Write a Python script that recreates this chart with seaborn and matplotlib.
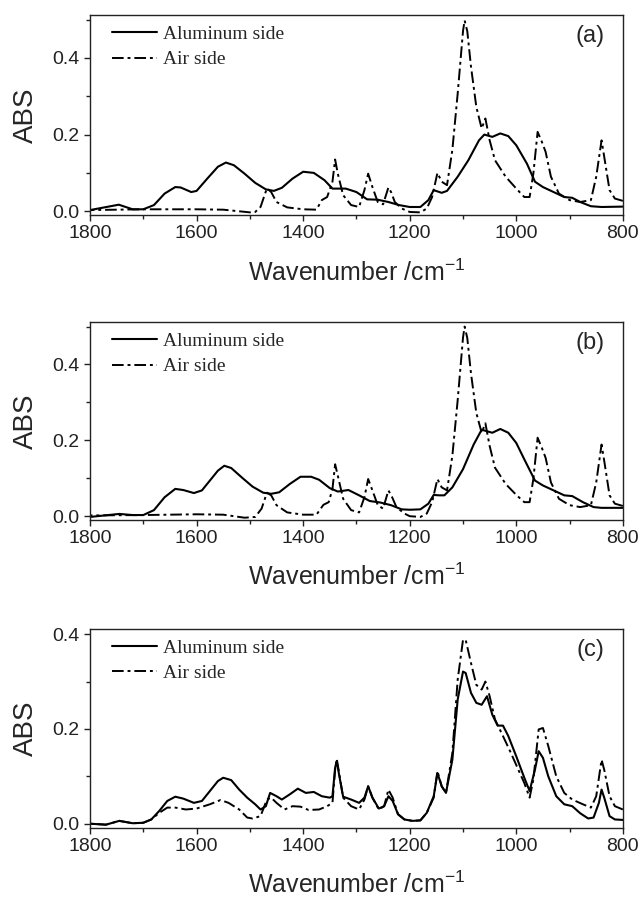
import numpy as np
import pandas as pd
import seaborn as sns
import matplotlib.pyplot as plt
from matplotlib.ticker import MultipleLocator

# ---- panel (a) ----
wn_al_a = [1800, 1746, 1720, 1700, 1680, 1660, 1640, 1630, 1610, 1600, 1580, 1560, 1545, 1530,
           1510, 1490, 1470, 1455, 1440, 1420, 1400, 1380, 1360, 1345, 1320, 1300, 1280, 1260,
           1240, 1220, 1200, 1180, 1165, 1155, 1140, 1130, 1110, 1090, 1070, 1060, 1045, 1030,
           1015, 1000, 980, 965, 950, 930, 910, 895, 880, 860, 840, 800]
abs_al_a = [0.003, 0.017, 0.005, 0.005, 0.016, 0.046, 0.063, 0.062, 0.050, 0.053, 0.085, 0.116,
            0.127, 0.120, 0.098, 0.074, 0.057, 0.053, 0.061, 0.085, 0.103, 0.100, 0.081, 0.059,
            0.059, 0.050, 0.031, 0.030, 0.024, 0.016, 0.011, 0.011, 0.029, 0.055, 0.048, 0.053,
            0.090, 0.133, 0.185, 0.200, 0.194, 0.203, 0.196, 0.172, 0.124, 0.077, 0.063, 0.050,
            0.037, 0.035, 0.024, 0.013, 0.011, 0.012]
wn_air_a = [1800, 1700, 1600, 1550, 1500, 1490, 1480, 1468, 1460, 1450, 1430, 1400, 1375, 1365,
            1355, 1345, 1340, 1335, 1325, 1310, 1295, 1285, 1278, 1270, 1260, 1250, 1240, 1235,
            1228, 1215, 1200, 1180, 1168, 1158, 1148, 1140, 1130, 1120, 1110, 1100, 1097, 1092,
            1085, 1075, 1065, 1058, 1050, 1040, 1020, 1000, 985, 975, 968, 960, 952, 945, 935,
            920, 900, 880, 860, 850, 840, 835, 825, 815, 800]
abs_air_a = [0.003, 0.005, 0.005, 0.004, -0.003, -0.002, 0.011, 0.060, 0.050, 0.024, 0.010,
             0.005, 0.004, 0.029, 0.037, 0.077, 0.135, 0.098, 0.042, 0.016, 0.011, 0.055, 0.098,
             0.063, 0.024, 0.018, 0.062, 0.050, 0.024, 0.007, -0.002, -0.003, 0.007, 0.037, 0.100,
             0.077, 0.068, 0.160, 0.307, 0.470, 0.498, 0.470, 0.377, 0.272, 0.216, 0.242, 0.185,
             0.133, 0.090, 0.059, 0.037, 0.037, 0.098, 0.207, 0.181, 0.155, 0.090, 0.046, 0.029,
             0.024, 0.029, 0.090, 0.185, 0.142, 0.055, 0.033, 0.027]

# ---- panel (b) ----
wn_al_b = [1800, 1745, 1720, 1700, 1680, 1660, 1640, 1625, 1605, 1590, 1575, 1560, 1548, 1535,
           1515, 1495, 1475, 1460, 1445, 1425, 1405, 1385, 1370, 1350, 1335, 1315, 1295, 1275,
           1255, 1235, 1215, 1200, 1180, 1165, 1155, 1145, 1135, 1120, 1100, 1080, 1065, 1055,
           1045, 1030, 1015, 1000, 985, 965, 950, 930, 910, 895, 875, 855, 840, 800]
abs_al_b = [-0.002, 0.006, 0.003, 0.003, 0.016, 0.050, 0.072, 0.069, 0.061, 0.068, 0.094, 0.120,
            0.133, 0.127, 0.102, 0.078, 0.062, 0.059, 0.063, 0.085, 0.104, 0.104, 0.096, 0.074,
            0.065, 0.069, 0.055, 0.040, 0.036, 0.029, 0.018, 0.017, 0.018, 0.033, 0.056, 0.055,
            0.055, 0.076, 0.124, 0.189, 0.228, 0.224, 0.220, 0.230, 0.220, 0.193, 0.150, 0.094,
            0.081, 0.068, 0.055, 0.053, 0.037, 0.024, 0.022, 0.022]
wn_air_b = [1800, 1700, 1600, 1550, 1510, 1490, 1478, 1468, 1460, 1450, 1430, 1400, 1375, 1362,
            1352, 1345, 1340, 1335, 1325, 1310, 1295, 1285, 1278, 1270, 1260, 1250, 1240, 1233,
            1225, 1210, 1200, 1180, 1168, 1158, 1148, 1140, 1130, 1120, 1110, 1100, 1097, 1092,
            1085, 1075, 1065, 1058, 1050, 1040, 1020, 1000, 985, 975, 968, 960, 952, 945, 935,
            920, 900, 880, 860, 850, 840, 835, 825, 815, 800]
abs_air_b = [0.002, 0.003, 0.005, 0.004, -0.004, -0.002, 0.020, 0.062, 0.055, 0.029, 0.010,
             0.004, 0.004, 0.030, 0.037, 0.072, 0.137, 0.107, 0.046, 0.016, 0.010, 0.050, 0.098,
             0.068, 0.029, 0.020, 0.068, 0.050, 0.024, 0.007, 0.000, -0.002, 0.007, 0.037, 0.098,
             0.076, 0.068, 0.159, 0.306, 0.471, 0.500, 0.470, 0.376, 0.272, 0.220, 0.245, 0.185,
             0.128, 0.085, 0.056, 0.037, 0.037, 0.098, 0.207, 0.180, 0.154, 0.089, 0.046, 0.029,
             0.024, 0.029, 0.089, 0.189, 0.146, 0.055, 0.033, 0.027]

# ---- panel (c) ----
wn_al_c = [1800, 1770, 1745, 1720, 1700, 1685, 1670, 1655, 1640, 1625, 1605, 1590, 1575, 1560,
           1550, 1535, 1520, 1505, 1490, 1480, 1470, 1462, 1450, 1440, 1425, 1410, 1395, 1380,
           1365, 1350, 1345, 1340, 1337, 1332, 1325, 1310, 1295, 1285, 1278, 1270, 1258, 1248,
           1240, 1232, 1222, 1210, 1195, 1180, 1168, 1155, 1148, 1140, 1132, 1120, 1110, 1100,
           1095, 1085, 1075, 1065, 1055, 1045, 1035, 1025, 1015, 1000, 985, 975, 965, 958, 950,
           940, 925, 910, 895, 880, 865, 855, 845, 840, 835, 825, 815, 800]
abs_al_c = [0.000, -0.002, 0.006, 0.001, 0.002, 0.009, 0.027, 0.048, 0.057, 0.053, 0.044, 0.048,
            0.069, 0.090, 0.097, 0.092, 0.072, 0.055, 0.041, 0.030, 0.037, 0.065, 0.058, 0.051,
            0.062, 0.074, 0.065, 0.067, 0.058, 0.055, 0.058, 0.118, 0.132, 0.100, 0.057, 0.051,
            0.044, 0.055, 0.079, 0.055, 0.032, 0.037, 0.058, 0.048, 0.020, 0.009, 0.006, 0.007,
            0.023, 0.058, 0.107, 0.079, 0.065, 0.135, 0.262, 0.321, 0.318, 0.276, 0.255, 0.251,
            0.269, 0.230, 0.207, 0.207, 0.185, 0.142, 0.097, 0.069, 0.114, 0.153, 0.139, 0.100,
            0.058, 0.041, 0.037, 0.022, 0.011, 0.013, 0.044, 0.072, 0.055, 0.016, 0.009, 0.008]
wn_air_c = [1800, 1770, 1745, 1720, 1700, 1685, 1670, 1655, 1640, 1620, 1600, 1575, 1555, 1540,
            1520, 1505, 1495, 1480, 1468, 1460, 1450, 1435, 1420, 1405, 1390, 1370, 1355, 1345,
            1340, 1337, 1332, 1325, 1310, 1295, 1285, 1278, 1270, 1258, 1248, 1240, 1232, 1222,
            1210, 1195, 1180, 1168, 1155, 1148, 1140, 1132, 1120, 1110, 1100, 1095, 1085, 1075,
            1065, 1058, 1050, 1040, 1025, 1010, 995, 985, 975, 968, 958, 950, 940, 925, 910, 895,
            875, 860, 850, 840, 835, 825, 815, 800]
abs_air_c = [0.000, -0.002, 0.006, 0.001, 0.002, 0.009, 0.023, 0.034, 0.034, 0.030, 0.032,
             0.041, 0.050, 0.044, 0.030, 0.013, 0.011, 0.016, 0.051, 0.055, 0.044, 0.030, 0.037,
             0.036, 0.029, 0.030, 0.037, 0.044, 0.114, 0.137, 0.104, 0.055, 0.037, 0.030, 0.051,
             0.079, 0.055, 0.030, 0.037, 0.072, 0.055, 0.020, 0.009, 0.006, 0.007, 0.023, 0.055,
             0.111, 0.079, 0.065, 0.149, 0.304, 0.388, 0.388, 0.339, 0.293, 0.283, 0.300, 0.269,
             0.220, 0.185, 0.149, 0.111, 0.086, 0.055, 0.093, 0.199, 0.202, 0.164, 0.100, 0.065,
             0.051, 0.041, 0.034, 0.058, 0.135, 0.114, 0.058, 0.037, 0.030]

panels = [
    ("(a)", wn_al_a, abs_al_a, wn_air_a, abs_air_a, (-0.01, 0.512)),
    ("(b)", wn_al_b, abs_al_b, wn_air_b, abs_air_b, (-0.01, 0.512)),
    ("(c)", wn_al_c, abs_al_c, wn_air_c, abs_air_c, (-0.009, 0.411)),
]

sns.set_style("ticks")
plt.rcParams['font.family'] = ['Liberation Sans', 'DejaVu Sans']
plt.rcParams['axes.linewidth'] = 1.0
plt.rcParams['axes.unicode_minus'] = False

fig = plt.figure(figsize=(6.42, 8.99), dpi=100)
boxes = [
    [0.1402, 0.7608, 0.830, 0.2225],
    [0.1402, 0.4216, 0.830, 0.2202],
    [0.1402, 0.0790, 0.830, 0.2214],
]

for box, (tag, wa, ya, wb, yb, ylim) in zip(boxes, panels):
    ax = fig.add_axes(box)
    sns.lineplot(x=wa, y=ya, ax=ax, color='black', lw=1.5, estimator=None,
                 label='Aluminum side')
    sns.lineplot(x=wb, y=yb, ax=ax, color='black', lw=1.4, estimator=None,
                 label='Air side')
    ax.lines[1].set_dashes([6, 2, 1.5, 2])
    ax.set_xlim(1800, 800)
    ax.set_ylim(*ylim)
    ax.set_yticks([0.0, 0.2, 0.4])
    ax.yaxis.set_minor_locator(MultipleLocator(0.1))
    ax.xaxis.set_major_locator(MultipleLocator(200))
    ax.xaxis.set_minor_locator(MultipleLocator(100))
    ax.tick_params(which='major', direction='out', length=4, width=1, labelsize=14,
                   colors='#222222')
    ax.tick_params(which='minor', direction='out', length=3, width=1, colors='#222222')
    ax.yaxis.set_major_formatter(plt.FormatStrFormatter('%.1f'))
    for s in ax.spines.values():
        s.set_visible(True)
        s.set_color('#222222')
    ax.set_xlabel(r'Wavenumber /cm$^{\mathregular{-1}}$', fontsize=18, labelpad=12)
    ax.set_ylabel('ABS', fontsize=20, labelpad=10)
    ax.text(0.966, 0.95, tag, transform=ax.transAxes, ha='right', va='top', fontsize=17)
    ax.legend(loc='upper left', frameon=False,
              prop={'family': 'Liberation Serif', 'size': 14},
              handlelength=2.3, handletextpad=0.35, labelspacing=0.42,
              borderpad=0, borderaxespad=0, bbox_to_anchor=(0.041, 0.95))

fig.savefig('out.png', dpi=100)
